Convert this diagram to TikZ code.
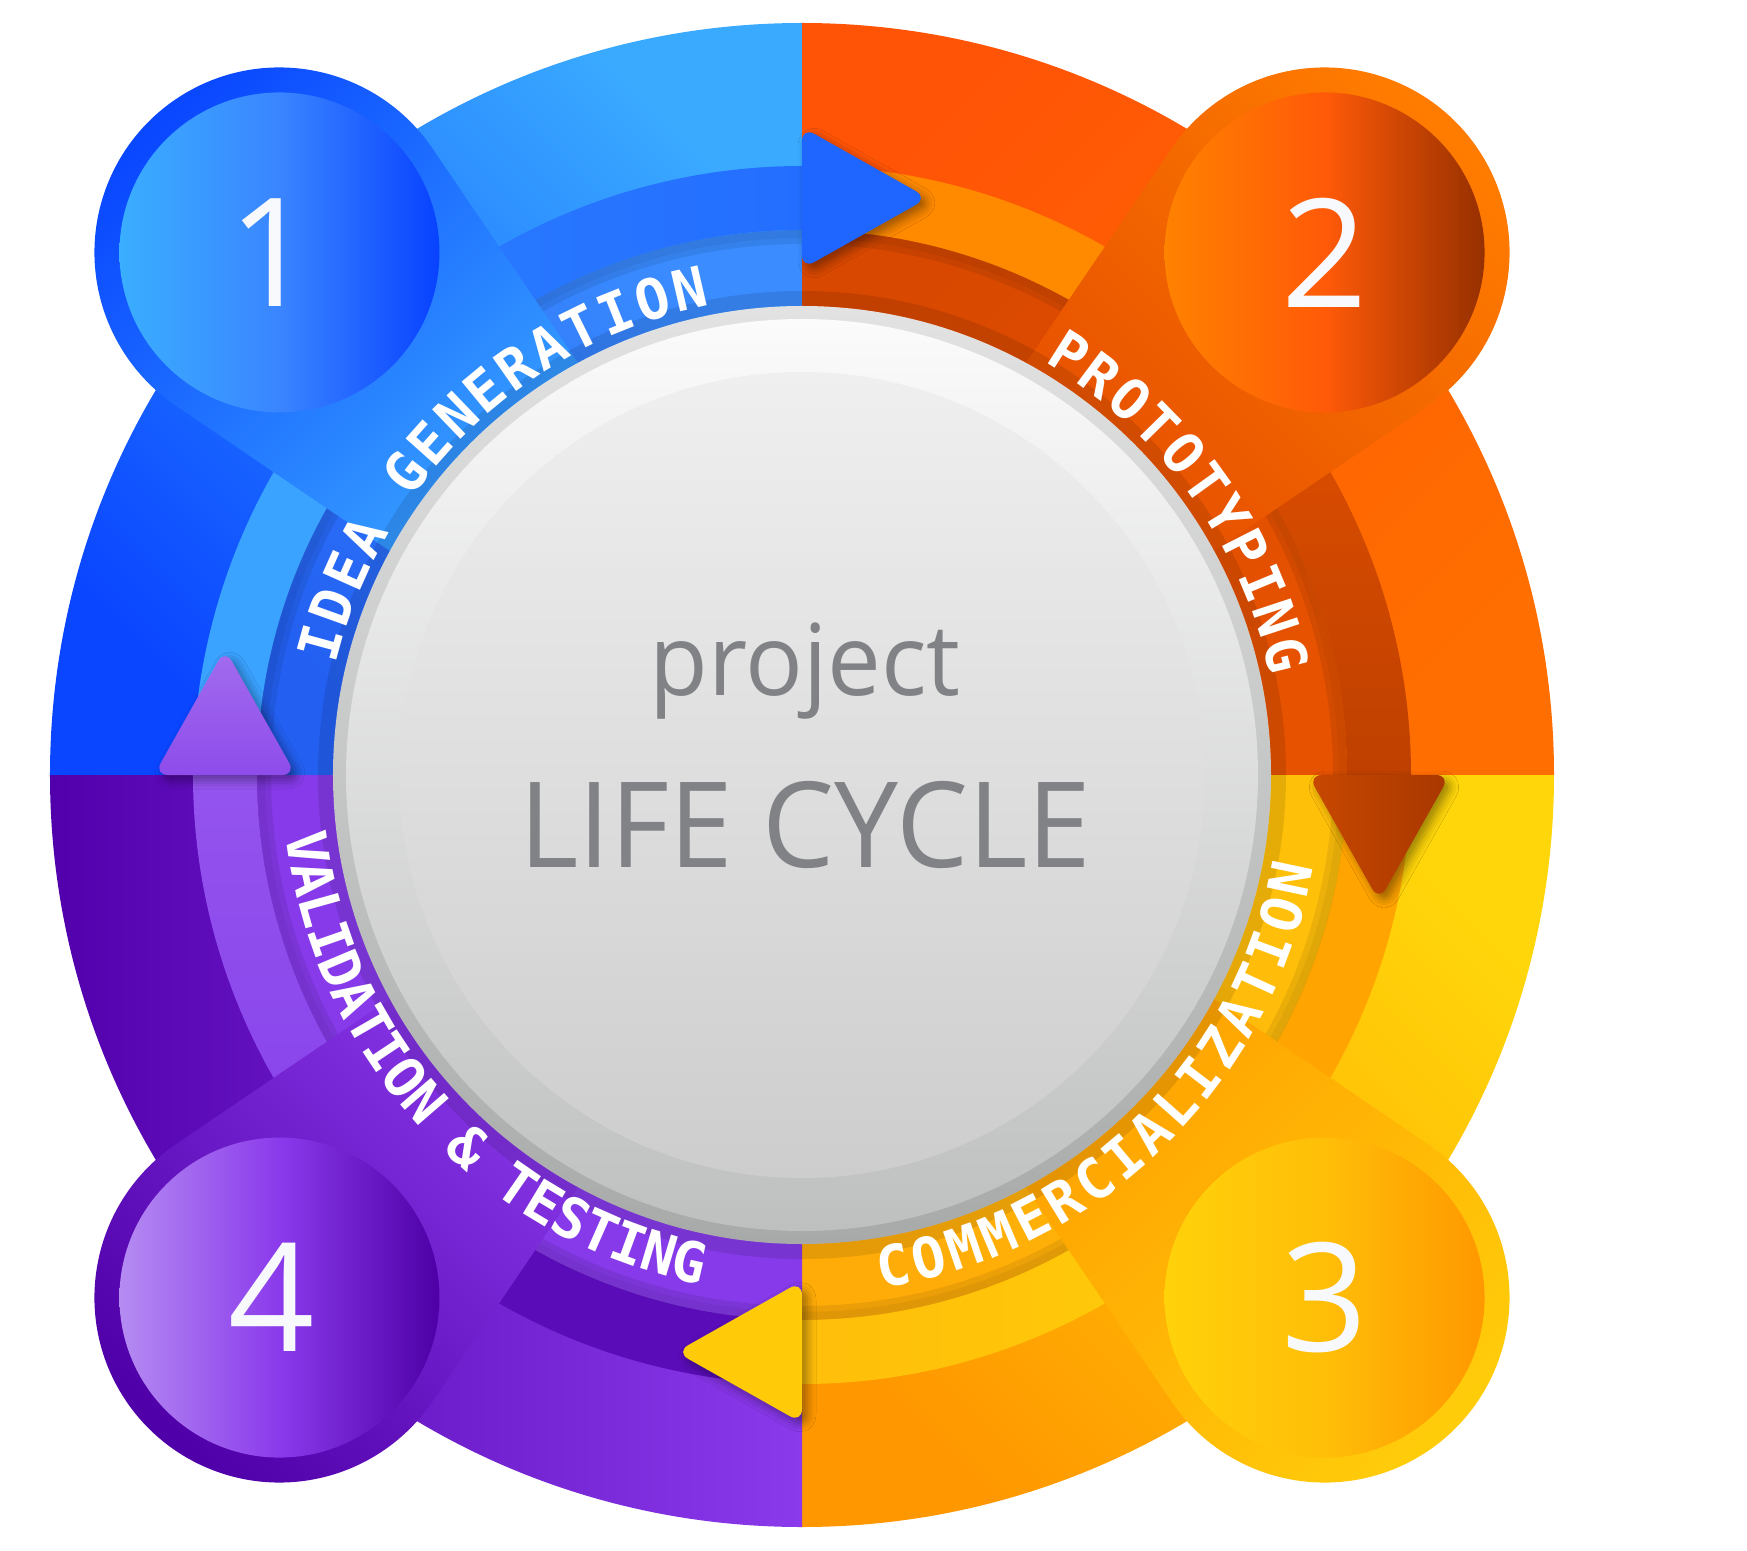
\documentclass[tikz,border=0pt]{standalone}
\usepackage{fontspec}
\newfontfamily\lblfont{DejaVu Sans Mono}
\newfontfamily\sansfont{Open Sans}
\usetikzlibrary{calc,shadows.blur}

\definecolor{txtgray}{HTML}{808285}
\definecolor{numwhite}{HTML}{F7F9FC}
% outer ring
\definecolor{tlA}{HTML}{0A46FF}\definecolor{tlB}{HTML}{3AAAFF}
\definecolor{trA}{HTML}{FF5406}\definecolor{trB}{HTML}{FF6E00}
\definecolor{brA}{HTML}{FF9800}\definecolor{brB}{HTML}{FFD60A}
\definecolor{blA}{HTML}{5200AC}\definecolor{blB}{HTML}{8A3AEB}
% text band
\definecolor{tbTLa}{HTML}{2360F2}\definecolor{tbTLb}{HTML}{3A8CFF}
\definecolor{tbTRa}{HTML}{D84800}\definecolor{tbTRb}{HTML}{E65200}
\definecolor{tbBRa}{HTML}{FFAC08}\definecolor{tbBRb}{HTML}{FFC00A}
\definecolor{tbBL}{HTML}{863AE9}
% arrow band free parts
\definecolor{abTL}{HTML}{3AA2FF}
\definecolor{abTR}{HTML}{FF8A00}
\definecolor{abBR}{HTML}{FFA400}
\definecolor{abBL}{HTML}{5A0CB8}
% shafts
\definecolor{shTLa}{HTML}{2A7CFF}\definecolor{shTLb}{HTML}{246EFF}
\definecolor{shTRa}{HTML}{E25000}\definecolor{shTRb}{HTML}{BE4000}
\definecolor{shBRa}{HTML}{FFCC0A}\definecolor{shBRb}{HTML}{FFBE0A}
\definecolor{shBLa}{HTML}{8640EA}\definecolor{shBLb}{HTML}{9454EE}
% pins
\definecolor{p1a}{HTML}{0A48FF}\definecolor{p1b}{HTML}{3AA5FF}
\definecolor{p2a}{HTML}{FF7C00}\definecolor{p2b}{HTML}{E44C00}
\definecolor{p3a}{HTML}{FFCC0A}\definecolor{p3b}{HTML}{FF9E00}
\definecolor{p4a}{HTML}{5000A8}\definecolor{p4b}{HTML}{8A3AEB}
% pin discs
\definecolor{d1a}{HTML}{3AAEFF}\definecolor{d1m}{HTML}{3A85FF}\definecolor{d1b}{HTML}{0842FF}
\definecolor{d2a}{HTML}{FF8200}\definecolor{d2m}{HTML}{FF5A08}\definecolor{d2b}{HTML}{963000}
\definecolor{d3a}{HTML}{FFD20A}\definecolor{d3m}{HTML}{FFBE08}\definecolor{d3b}{HTML}{FF9800}
\definecolor{d4a}{HTML}{B58CF2}\definecolor{d4m}{HTML}{8A3AEB}\definecolor{d4b}{HTML}{4E00A6}
% heads
\definecolor{hd1}{HTML}{1E66FF}
\definecolor{hd2a}{HTML}{C84800}\definecolor{hd2b}{HTML}{A83700}
\definecolor{hd3}{HTML}{FFCA08}
\definecolor{hd4a}{HTML}{A26CEE}\definecolor{hd4b}{HTML}{8E4CEB}
% centre
\definecolor{rimA}{HTML}{E2E2E2}\definecolor{rimB}{HTML}{A8AAAA}
\definecolor{wA}{HTML}{FBFBFB}\definecolor{wB}{HTML}{BEBFBF}
\definecolor{iA}{HTML}{EFEFEF}\definecolor{iB}{HTML}{CDCDCD}

\newcommand\quarterdisk[2]{(0,0) -- (#1:752) arc[start angle=#1,end angle=#2,radius=752pt] -- cycle}
\newcommand\annsec[4]{(#1:#4) arc[start angle=#1,end angle=#2,radius=#4pt] -- (#2:#3) arc[start angle=#2,end angle=#1,radius=#3pt] -- cycle}

% pin outline: angle of the pin centre
\newcommand\pinpath[1]{($(#1:739)+(#1+259.2:185)$) arc[start angle=#1+259.2,end angle=#1+460.8,radius=185pt]
      -- ($(#1:739)+(#1+160.79:369.6)$) -- ($(#1:739)+(#1+199.21:369.6)$) -- cycle}

\newcommand\headpath[1]{(#1:506) -- (#1:648) -- ($(#1:577)+(#1-90:126)$) -- cycle}

\newcommand\outlabel[4]{%
  \foreach \ch [count=\i from 0] in {#4} {%
    \pgfmathsetmacro\ang{#2-\i*#3}
    \node[lbl, rotate=\ang-90, name=#1\i] at (\ang:478.6) {\smash{\makebox[0pt]{\ch}}};
  }}
\newcommand\inlabel[4]{%
  \foreach \ch [count=\i from 0] in {#4} {%
    \pgfmathsetmacro\ang{#2+\i*#3}
    \node[lbl, rotate=\ang+90, name=#1\i] at (\ang:519.4) {\smash{\makebox[0pt]{\ch}}};
  }}

\begin{document}
\begin{tikzpicture}[x=1pt,y=1pt,
  lbl/.style={font=\lblfont\bfseries\fontsize{56}{56}\selectfont, text=white, anchor=base, inner sep=0pt},
  numtxt/.style={font=\sansfont\fontsize{151}{151}\selectfont, text=numwhite, inner sep=0pt},
  ctrtxt/.style={text=txtgray, inner sep=0pt, anchor=base},
  headshadow/.style={blur shadow={shadow xshift=5pt, shadow yshift=-5pt, shadow blur radius=9pt, shadow opacity=40}}]

\useasboundingbox (-802,-775) rectangle (945,775);
\fill[white] (-802,-775) rectangle (945,775);

% outer ring quadrants
\shade[left color=tlA, right color=tlB, shading angle=135] \quarterdisk{90}{180};
\shade[left color=trA, right color=trB, shading angle=45] \quarterdisk{0}{90};
\shade[left color=brA, right color=brB, shading angle=135] \quarterdisk{270}{360};
\shade[left color=blA, right color=blB] \quarterdisk{180}{270};

% text band
\shade[left color=tbTLa, right color=tbTLb, shading angle=135] \annsec{180}{90}{469}{545};
\shade[left color=tbTRa, right color=tbTRb, shading angle=45] \annsec{90}{0}{469}{545};
\shade[left color=tbBRa, right color=tbBRb, shading angle=135] \annsec{0}{-90}{469}{545};
\fill[tbBL] \annsec{270}{180}{469}{545};

% arrow band: free parts
\fill[abTL] \annsec{180}{135}{545}{609};
\fill[abTR] \annsec{90}{45}{545}{609};
\fill[abBR] \annsec{0}{-45}{545}{609};
\fill[abBL] \annsec{270}{225}{545}{609};

% shadow of arrow band on text band
\draw[black, opacity=.12, line width=8pt] (0,0) circle[radius=541pt];
\draw[black, opacity=.08, line width=6pt] (0,0) circle[radius=534pt];

% arrow shafts
\shade[left color=shTLa, right color=shTLb] \annsec{135}{90}{545}{609};
\shade[top color=shTRa, bottom color=shTRb] \annsec{45}{0}{545}{609};
\shade[left color=shBRb, right color=shBRa] \annsec{-45}{-90}{545}{609};
\shade[bottom color=shBLa, top color=shBLb] \annsec{225}{180}{545}{609};

% pins (far colour = left colour, pointing outward)
\shade[left color=p1a, right color=p1b, shading angle=45] \pinpath{135};
\shade[left color=p2a, right color=p2b, shading angle=-45] \pinpath{45};
\shade[left color=p3a, right color=p3b, shading angle=-135] \pinpath{-45};
\shade[left color=p4a, right color=p4b, shading angle=135] \pinpath{225};

% pin inner discs
\shade[left color=d1a, right color=d1b, middle color=d1m] (135:739) circle[radius=160pt];
\shade[left color=d2a, right color=d2b, middle color=d2m] (45:739) circle[radius=160pt];
\shade[left color=d3a, right color=d3b, middle color=d3m] (-45:739) circle[radius=160pt];
\shade[left color=d4a, right color=d4b, middle color=d4m] (225:739) circle[radius=160pt];

% arrow heads
\fill[hd1, rounded corners=14pt, headshadow] \headpath{90};
\shade[left color=hd2a, right color=hd2b, rounded corners=14pt, headshadow] \headpath{0};
\fill[hd3, rounded corners=14pt, headshadow] \headpath{270};
\shade[top color=hd4a, bottom color=hd4b, rounded corners=14pt, headshadow] \headpath{180};

% dark ring outside the grey rim
\fill[black, opacity=.10, even odd rule] (0,0) circle[radius=484pt] (0,0) circle[radius=469pt];

% central disc
\shade[top color=rimA, bottom color=rimB] (0,0) circle[radius=469pt];
\shade[top color=wA, bottom color=wB] (0,0) circle[radius=456pt];
\shade[top color=iA, bottom color=iB] (0,0) circle[radius=403pt];

% numbers
\node[numtxt] (n1) at ($(135:739)+(-8,0)$) {1};
\node[numtxt] (n2) at (45:739) {2};
\node[numtxt] (n3) at (-45:739) {3};
\node[numtxt] (n4) at ($(225:739)+(-8,0)$) {4};

% arc labels
\outlabel{ig}{164.7}{4.4}{I,D,E,A,{},G,E,N,E,R,A,T,I,O,N}
\outlabel{pt}{57.6}{4.37}{P,R,O,T,O,T,Y,P,I,N,G}
\inlabel{cm}{-79.5}{4.22}{C,O,M,M,E,R,C,I,A,L,I,Z,A,T,I,O,N}
\inlabel{vt}{188.4}{3.61}{V,A,L,I,D,A,T,I,O,N,{},\&,{},T,E,S,T,I,N,G}

% centre text
\node[ctrtxt, font=\sansfont\fontsize{99}{99}\selectfont] (proj) at (3,80) {\scalebox{0.968}[1]{project}};
\node[ctrtxt, font=\sansfont\fontsize{119}{119}\selectfont] (life) at (3.5,-92.7) {\scalebox{0.96}[1]{LIFE CYCLE}};

\end{tikzpicture}
\end{document}
